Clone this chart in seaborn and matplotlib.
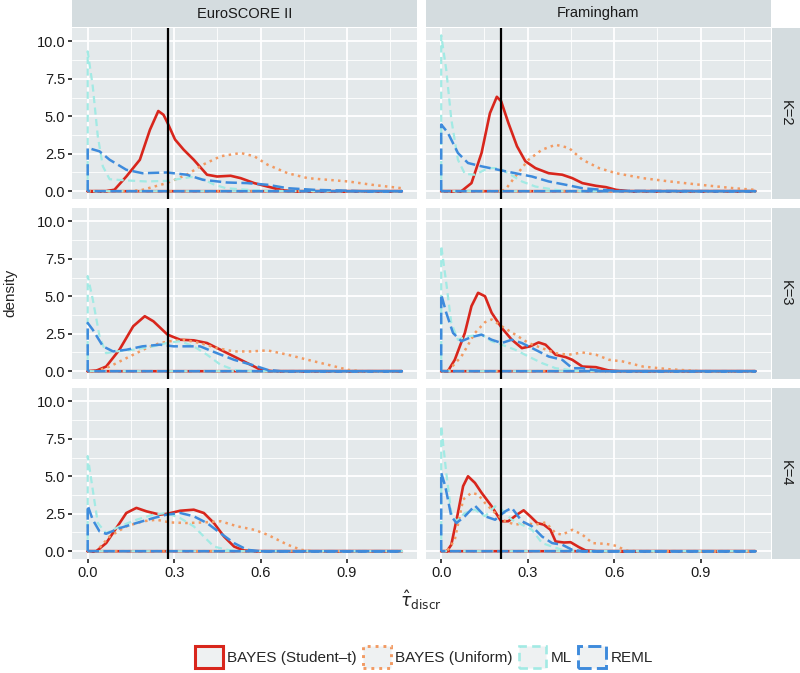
import pandas as pd
import matplotlib
matplotlib.use("Agg")
import matplotlib.pyplot as plt
from matplotlib.patches import Patch
import seaborn as sns

# density curves, (x, density) pairs from x=0 to x=1.09
euro_k2_student = [(0, 0), (0.064, 0), (0.093, 0.1), (0.134, 0.98), (0.181, 2.1), (0.216, 4.1), (0.245, 5.35),
                   (0.263, 5.1), (0.277, 4.56), (0.303, 3.45), (0.333, 2.77), (0.368, 2.1), (0.414, 1.1),
                   (0.449, 0.98), (0.496, 1.03), (0.531, 0.87), (0.578, 0.54), (0.624, 0.31), (0.683, 0.04),
                   (0.72, 0), (1.09, 0)]
euro_k2_uniform = [(0, 0), (0.15, 0), (0.19, 0.09), (0.274, 0.54), (0.344, 1.1), (0.4, 1.77), (0.461, 2.33),
                   (0.531, 2.55), (0.578, 2.33), (0.624, 1.77), (0.694, 1.2), (0.764, 0.87), (0.834, 0.76),
                   (0.904, 0.65), (0.986, 0.43), (1.09, 0.2)]
euro_k2_ml = [(0, 9.33), (0.0175, 7.0), (0.035, 3.67), (0.0525, 1.66), (0.076, 0.8), (0.134, 0.72), (0.204, 0.65),
              (0.274, 0.69), (0.36, 0.95), (0.4, 0.8), (0.44, 0.43), (0.48, 0.2), (0.55, 0.1), (0.62, 0.02),
              (1.09, 0)]
euro_k2_reml = [(0, 2.89), (0.041, 2.66), (0.076, 2.1), (0.134, 1.43), (0.19, 1.2), (0.274, 1.25), (0.344, 1.1),
                (0.4, 0.76), (0.484, 0.58), (0.554, 0.54), (0.624, 0.43), (0.694, 0.2), (0.788, 0.09),
                (0.89, 0.04), (0.95, 0), (1.09, 0)]

fram_k2_student = [(0, 0), (0.07, 0), (0.105, 0.54), (0.14, 2.55), (0.169, 5.2), (0.193, 6.3), (0.208, 6.0),
                   (0.233, 4.56), (0.263, 3.0), (0.292, 2.0), (0.327, 1.54), (0.373, 1.2), (0.42, 1.1),
                   (0.455, 0.87), (0.49, 0.54), (0.537, 0.36), (0.572, 0.27), (0.607, 0.09), (0.65, 0), (1.09, 0)]
fram_k2_uniform = [(0, 0), (0.2, 0), (0.222, 0.09), (0.257, 0.98), (0.303, 2.1), (0.35, 2.77), (0.397, 3.1),
                   (0.443, 2.89), (0.49, 2.1), (0.548, 1.54), (0.607, 1.2), (0.7, 0.87), (0.793, 0.65),
                   (0.898, 0.43), (1.015, 0.2), (1.09, 0.09)]
fram_k2_ml = [(0, 10.4), (0.0175, 8.1), (0.035, 4.8), (0.058, 2.1), (0.082, 1.16), (0.117, 1.1), (0.163, 1.54),
              (0.198, 1.54), (0.233, 1.2), (0.28, 0.65), (0.327, 0.31), (0.397, 0.09), (0.45, 0), (1.09, 0)]
fram_k2_reml = [(0, 4.45), (0.023, 3.9), (0.058, 2.55), (0.093, 1.88), (0.14, 1.66), (0.198, 1.43), (0.257, 1.2),
                (0.315, 0.98), (0.373, 0.65), (0.432, 0.43), (0.49, 0.2), (0.56, 0.09), (0.62, 0.02), (1.09, 0)]

euro_k3_student = [(0, 0), (0.03, 0.04), (0.064, 0.31), (0.11, 1.43), (0.158, 3.0), (0.198, 3.67), (0.228, 3.33),
                   (0.277, 2.44), (0.321, 2.1), (0.368, 2.06), (0.414, 1.88), (0.461, 1.43), (0.508, 0.98),
                   (0.554, 0.54), (0.601, 0.09), (0.64, 0), (1.09, 0)]
euro_k3_uniform = [(0, 0), (0.03, 0), (0.076, 0.31), (0.134, 0.87), (0.204, 1.54), (0.251, 1.88), (0.286, 2.0),
                   (0.333, 2.1), (0.39, 1.88), (0.449, 1.54), (0.508, 1.32), (0.566, 1.32), (0.624, 1.39),
                   (0.694, 1.1), (0.764, 0.76), (0.834, 0.43), (0.904, 0.09), (0.95, 0), (1.09, 0)]
euro_k3_ml = [(0, 6.35), (0.0175, 4.8), (0.041, 2.33), (0.064, 1.2), (0.099, 1.32), (0.158, 1.43), (0.228, 1.66),
              (0.274, 1.88), (0.321, 2.0), (0.368, 1.66), (0.414, 1.1), (0.461, 0.43), (0.508, 0.09), (0.55, 0),
              (1.09, 0)]
euro_k3_reml = [(0, 3.22), (0.0175, 2.77), (0.053, 1.66), (0.088, 1.32), (0.134, 1.43), (0.19, 1.66),
                (0.251, 1.77), (0.298, 1.66), (0.344, 1.66), (0.39, 1.66), (0.449, 1.2), (0.508, 0.76),
                (0.578, 0.38), (0.624, 0.09), (0.67, 0), (1.09, 0)]

fram_k3_student = [(0, 0), (0.023, 0), (0.047, 0.76), (0.082, 2.55), (0.105, 4.34), (0.128, 5.23), (0.152, 5.0),
                   (0.175, 3.9), (0.21, 2.89), (0.245, 2.1), (0.28, 1.54), (0.309, 1.66), (0.338, 1.92),
                   (0.362, 1.77), (0.397, 1.1), (0.432, 0.94), (0.455, 0.76), (0.49, 0.31), (0.537, 0.27),
                   (0.583, 0.04), (0.62, 0), (1.09, 0)]
fram_k3_uniform = [(0, 0), (0.023, 0), (0.07, 0.98), (0.117, 2.55), (0.152, 3.27), (0.175, 3.45), (0.21, 3.0),
                   (0.257, 2.44), (0.303, 1.88), (0.35, 1.54), (0.397, 1.2), (0.443, 1.1), (0.49, 1.25),
                   (0.537, 1.1), (0.583, 0.76), (0.63, 0.65), (0.7, 0.31), (0.793, 0.13), (0.9, 0), (1.09, 0)]
fram_k3_ml = [(0, 8.37), (0.0175, 5.9), (0.035, 3.22), (0.058, 2.1), (0.093, 2.33), (0.14, 2.44), (0.175, 2.0),
              (0.21, 1.77), (0.257, 1.43), (0.303, 0.98), (0.35, 0.54), (0.397, 0.2), (0.443, 0.09), (0.49, 0),
              (1.09, 0)]
fram_k3_reml = [(0, 5.12), (0.0175, 3.9), (0.041, 2.55), (0.07, 2.0), (0.105, 2.28), (0.14, 2.44), (0.175, 2.1),
                (0.21, 1.88), (0.245, 2.1), (0.28, 1.88), (0.327, 1.43), (0.373, 0.98), (0.42, 0.76),
                (0.455, 0.2), (0.49, 0.2), (0.525, 0.09), (0.56, 0), (1.09, 0)]

euro_k4_student = [(0, 0), (0.03, 0), (0.064, 0.54), (0.111, 1.88), (0.134, 2.55), (0.169, 2.89), (0.204, 2.66),
                   (0.251, 2.44), (0.277, 2.5), (0.321, 2.7), (0.368, 2.77), (0.403, 2.55), (0.438, 1.88),
                   (0.473, 0.98), (0.508, 0.31), (0.543, 0.04), (0.58, 0), (1.09, 0)]
euro_k4_uniform = [(0, 0), (0.03, 0), (0.076, 0.98), (0.134, 1.66), (0.193, 2.0), (0.239, 2.1), (0.286, 1.92),
                   (0.344, 1.88), (0.403, 1.92), (0.461, 2.0), (0.519, 1.66), (0.578, 1.43), (0.624, 1.1),
                   (0.694, 0.43), (0.741, 0.09), (0.78, 0), (1.09, 0)]
euro_k4_ml = [(0, 6.35), (0.0175, 4.1), (0.035, 1.88), (0.064, 1.2), (0.111, 1.66), (0.169, 2.1), (0.228, 2.44),
              (0.274, 2.55), (0.321, 2.21), (0.368, 1.66), (0.403, 0.98), (0.438, 0.31), (0.484, 0.09),
              (0.53, 0), (1.09, 0)]
euro_k4_reml = [(0, 3.04), (0.0175, 2.1), (0.041, 1.32), (0.064, 1.16), (0.111, 1.54), (0.169, 1.88),
                (0.228, 2.21), (0.274, 2.44), (0.321, 2.55), (0.368, 2.33), (0.414, 1.88), (0.461, 1.2),
                (0.508, 0.54), (0.554, 0.09), (0.6, 0), (1.09, 0)]

fram_k4_student = [(0, 0), (0.02, 0), (0.035, 0.43), (0.058, 2.55), (0.076, 4.34), (0.093, 5.0), (0.117, 4.56),
                   (0.14, 3.9), (0.175, 3.0), (0.208, 2.0), (0.233, 2.0), (0.263, 2.44), (0.286, 2.73),
                   (0.309, 2.33), (0.333, 1.88), (0.356, 1.77), (0.379, 1.43), (0.397, 0.65), (0.426, 0.58),
                   (0.449, 0.6), (0.478, 0.27), (0.502, 0.04), (0.54, 0), (1.09, 0)]
fram_k4_uniform = [(0, 0), (0.02, 0), (0.047, 0.76), (0.076, 3.45), (0.105, 3.9), (0.128, 3.78), (0.152, 3.22),
                   (0.187, 2.55), (0.222, 2.0), (0.257, 1.77), (0.292, 1.88), (0.327, 1.77), (0.362, 1.92),
                   (0.397, 1.2), (0.42, 1.1), (0.455, 1.43), (0.49, 1.1), (0.525, 0.54), (0.572, 0.49),
                   (0.607, 0.36), (0.642, 0.04), (0.68, 0), (1.09, 0)]
fram_k4_ml = [(0, 8.37), (0.0175, 5.23), (0.035, 2.55), (0.053, 2.0), (0.082, 2.55), (0.117, 2.77), (0.152, 2.33),
              (0.187, 3.0), (0.21, 2.77), (0.245, 2.1), (0.28, 1.77), (0.315, 1.43), (0.35, 0.54), (0.385, 0.31),
              (0.42, 0.09), (0.46, 0), (1.09, 0)]
fram_k4_reml = [(0, 5.23), (0.014, 4.34), (0.035, 2.33), (0.053, 1.88), (0.082, 2.33), (0.117, 3.04),
                (0.152, 2.33), (0.187, 2.1), (0.222, 2.66), (0.245, 2.89), (0.28, 2.0), (0.315, 1.66),
                (0.35, 0.98), (0.385, 0.54), (0.42, 0.43), (0.455, 0.09), (0.49, 0), (1.09, 0)]

scores = ["EuroSCORE II", "Framingham"]
k_labels = ["K=2", "K=3", "K=4"]
methods = ["BAYES (Student\u2013t)", "BAYES (Uniform)", "ML", "REML"]
true_tau = [0.277, 0.209]  # vertical reference lines
x_ticks = [0.0, 0.3, 0.6, 0.9]
y_ticks = [0.0, 2.5, 5.0, 7.5, 10.0]

curves = {
    ("EuroSCORE II", "K=2"): [euro_k2_student, euro_k2_uniform, euro_k2_ml, euro_k2_reml],
    ("Framingham", "K=2"): [fram_k2_student, fram_k2_uniform, fram_k2_ml, fram_k2_reml],
    ("EuroSCORE II", "K=3"): [euro_k3_student, euro_k3_uniform, euro_k3_ml, euro_k3_reml],
    ("Framingham", "K=3"): [fram_k3_student, fram_k3_uniform, fram_k3_ml, fram_k3_reml],
    ("EuroSCORE II", "K=4"): [euro_k4_student, euro_k4_uniform, euro_k4_ml, euro_k4_reml],
    ("Framingham", "K=4"): [fram_k4_student, fram_k4_uniform, fram_k4_ml, fram_k4_reml],
}

# long table; each curve is closed like a ggplot density outline (up at 0, along curve, down, back on baseline)
rows = []
for (score, k), series in curves.items():
    for method, pts in zip(methods, series):
        xmax = pts[-1][0]
        outline = [(0, 0)] + pts + [(xmax, 0), (0, 0)]
        for i, (x, y) in enumerate(outline):
            rows.append({"score": score, "K": k, "method": method, "order": i, "x": x, "density": y})
df = pd.DataFrame(rows)

colors = {methods[0]: "#D8261C", methods[1]: "#F29A62", methods[2]: "#A2EAE4", methods[3]: "#3E8BDC"}
styles = {methods[0]: "-", methods[1]: (0, (1, 1.7)), methods[2]: (0, (3.2, 2)), methods[3]: (0, (4.5, 1.8))}
widths = {methods[0]: 1.9, methods[1]: 1.8, methods[2]: 1.6, methods[3]: 1.8}

panel_bg = "#E4E9EB"
strip_bg = "#D4DCDF"

sns.set_theme(style="white")
plt.rcParams["font.family"] = ["Liberation Sans", "DejaVu Sans"]

W, H = 800, 673
fig, axes = plt.subplots(3, 2, figsize=(8, 6.73), dpi=100, sharex=True, sharey=True)
left, right, top, bottom = 72, 771, 28, 559
fig.subplots_adjust(left=left / W, right=right / W, top=1 - top / H, bottom=1 - bottom / H,
                    wspace=8 / 345, hspace=9 / 171)

for r, k in enumerate(k_labels):
    for c, score in enumerate(scores):
        ax = axes[r, c]
        ax.set_facecolor(panel_bg)
        sub = df[(df["score"] == score) & (df["K"] == k)]
        for m in methods:
            d = sub[sub["method"] == m].sort_values("order")
            sns.lineplot(data=d, x="x", y="density", sort=False, estimator=None, ax=ax,
                         color=colors[m], linewidth=widths[m], linestyle=styles[m])
        ax.axvline(true_tau[c], color="black", linewidth=1.6, zorder=5)

        ax.set_xlim(-0.0545, 1.1445)
        ax.set_ylim(-0.52, 10.89)
        ax.set_xticks(x_ticks)
        ax.set_xticks([0.15, 0.45, 0.75, 1.05], minor=True)
        ax.set_yticks(y_ticks)
        ax.set_yticks([1.25, 3.75, 6.25, 8.75], minor=True)
        ax.grid(which="major", color="white", linewidth=1.3)
        ax.grid(which="minor", color="white", linewidth=0.6)
        ax.set_axisbelow(True)
        for s in ax.spines.values():
            s.set_visible(False)
        ax.tick_params(which="major", length=3, width=1.2, color="#222222", labelsize=10.5,
                       labelcolor="#1a1a1a", pad=2)
        ax.tick_params(which="minor", length=0)
        ax.set_xlabel("")
        ax.set_ylabel("")
        ax.tick_params(axis="x", bottom=(r == 2), labelbottom=(r == 2))
        ax.tick_params(axis="y", left=(c == 0), labelleft=(c == 0))
        ax.set_xticklabels(["0.0", "0.3", "0.6", "0.9"])
        ax.set_yticklabels(["0.0", "2.5", "5.0", "7.5", "10.0"])

# facet strips
for c, score in enumerate(scores):
    pos = axes[0, c].get_position()
    sax = fig.add_axes([pos.x0, 1 - 27 / H, pos.width, 27 / H])
    sax.set_facecolor(strip_bg)
    sax.set_xticks([])
    sax.set_yticks([])
    for s in sax.spines.values():
        s.set_visible(False)
    sax.text(0.5, 0.5, score, ha="center", va="center", fontsize=10.5, color="#1a1a1a", transform=sax.transAxes)

for r, k in enumerate(k_labels):
    pos = axes[r, 1].get_position()
    sax = fig.add_axes([pos.x1 + 0.5 / W, pos.y0, 29 / W, pos.height])
    sax.set_facecolor(strip_bg)
    sax.set_xticks([])
    sax.set_yticks([])
    for s in sax.spines.values():
        s.set_visible(False)
    sax.text(0.5, 0.5, k, ha="center", va="center", rotation=-90, fontsize=10.5, color="#1a1a1a",
             transform=sax.transAxes)

fig.text(10 / W, 1 - 293 / H, "density", rotation=90, ha="center", va="center", fontsize=11)
fig.text(421 / W, 1 - 600 / H, r"$\hat{\tau}_{\mathrm{discr}}$", ha="center", va="center", fontsize=12.5)

handles = [Patch(facecolor="#EEF1F2", edgecolor=colors[m], linestyle=styles[m], linewidth=widths[m] + 0.3,
                 label=m) for m in methods]
fig.legend(handles=handles, loc="center", bbox_to_anchor=(424 / W, 1 - 657 / H), ncol=4, frameon=False,
           fontsize=11, handlelength=1.8, handleheight=1.8, handletextpad=0.3, columnspacing=0.4)

fig.savefig("out.png", dpi=100)
